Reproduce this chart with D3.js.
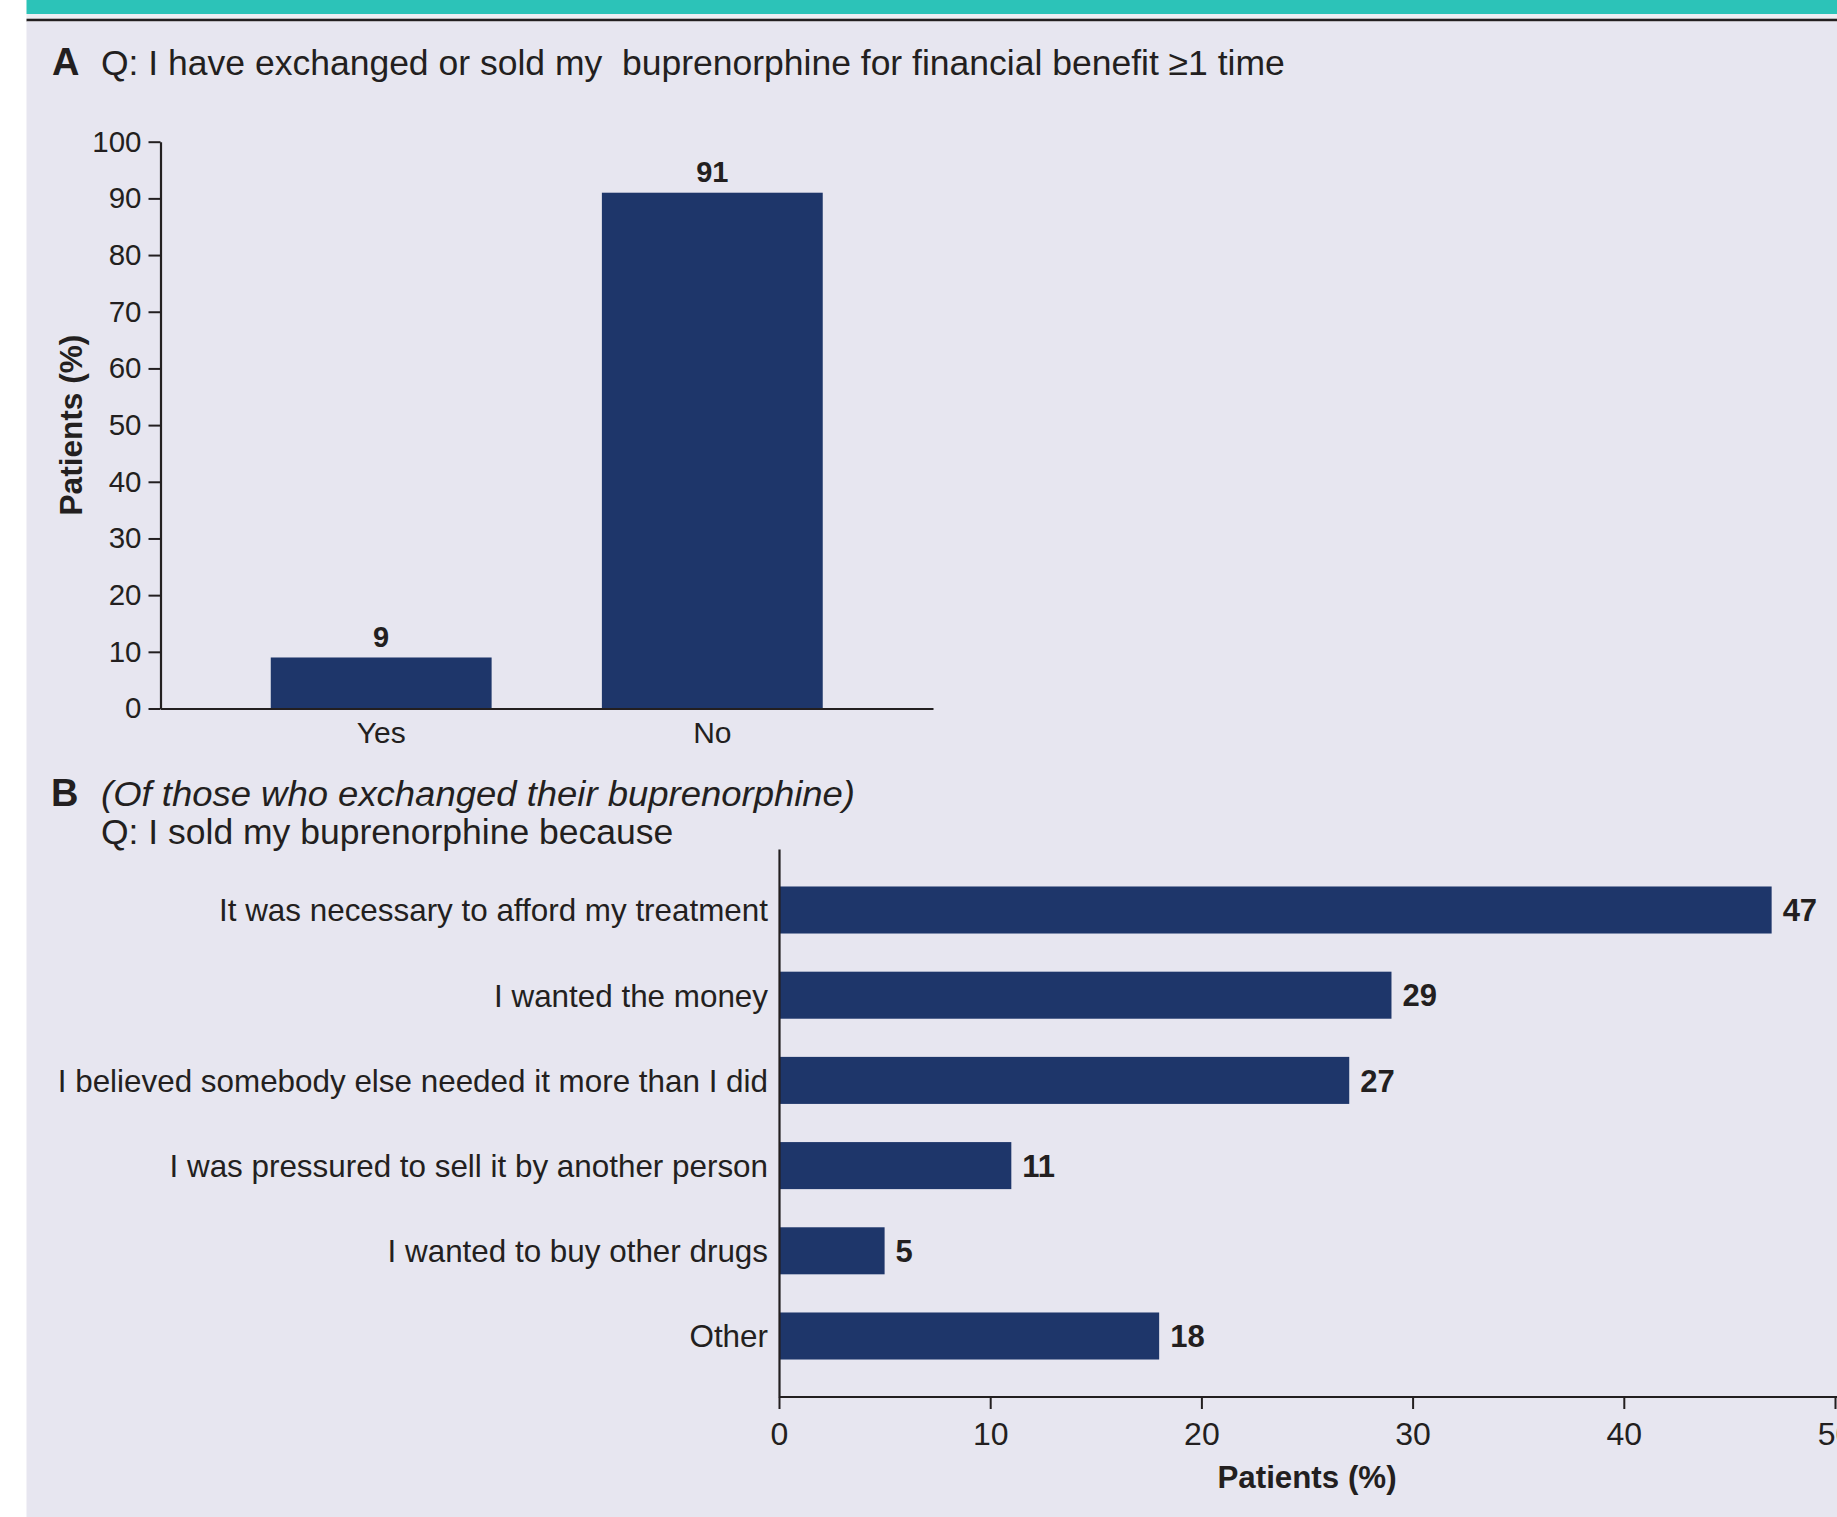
<!DOCTYPE html>
<html>
<head>
<meta charset="utf-8">
<script src="https://cdn.jsdelivr.net/npm/d3@7"></script>
<style>
  html, body { margin: 0; padding: 0; background: #ffffff; }
  svg { display: block; }
  text { font-family: "Liberation Sans", Arial, Helvetica, sans-serif; }
</style>
</head>
<body>
<svg id="chart" width="1837" height="1517"></svg>
<script>
// Panel A: share of patients who exchanged or sold buprenorphine
const panelALetter = "A";
const panelATitle = "Q: I have exchanged or sold my\u00a0 buprenorphine for financial benefit \u22651 time";
const answerCategories = ["Yes", "No"];
const answerValues = [9, 91];
const panelAYTicks = [0, 10, 20, 30, 40, 50, 60, 70, 80, 90, 100];

// Panel B: reasons given by those who exchanged it
const panelBLetter = "B";
const panelBSubtitle = "(Of those who exchanged their buprenorphine)";
const panelBTitle = "Q: I sold my buprenorphine because";
const reasonCategories = [
  "It was necessary to afford my treatment",
  "I wanted the money",
  "I believed somebody else needed it more than I did",
  "I was pressured to sell it by another person",
  "I wanted to buy other drugs",
  "Other"
];
const reasonValues = [47, 29, 27, 11, 5, 18];
const panelBXTicks = [0, 10, 20, 30, 40, 50];

const axisTitle = "Patients (%)";

const INK = "#231f20";
const BAR = "#1e366a";
const PANEL_BG = "#e7e6f0";
const TEAL = "#2cc3b8";

const svg = d3.select("#chart");

// Page frame: teal header band, rule, and panel background
svg.append("rect").attr("x", 0).attr("y", 0).attr("width", 1837).attr("height", 1517).attr("fill", "#ffffff");
svg.append("rect").attr("x", 26.5).attr("y", 0).attr("width", 1837 - 26.5).attr("height", 14).attr("fill", TEAL);
svg.append("rect").attr("x", 26.5).attr("y", 14).attr("width", 1837 - 26.5).attr("height", 4.7).attr("fill", "#eeeef3");
svg.append("rect").attr("x", 26.5).attr("y", 18.7).attr("width", 1837 - 26.5).attr("height", 2.8).attr("fill", INK);
svg.append("rect").attr("x", 26.5).attr("y", 21.5).attr("width", 1837 - 26.5).attr("height", 1517 - 21.5).attr("fill", PANEL_BG);

function styleAxis(g, fontSize) {
  g.attr("font-family", null).attr("font-size", null).attr("color", INK);
  g.selectAll("path.domain").attr("stroke", INK).attr("stroke-width", 2.2);
  g.selectAll(".tick line").attr("stroke", INK).attr("stroke-width", 2);
  g.selectAll(".tick text")
    .attr("fill", INK)
    .style("font-family", '"Liberation Sans", Arial, Helvetica, sans-serif')
    .style("font-size", fontSize + "px");
}

// ---------- Panel A ----------
svg.append("text").attr("x", 52).attr("y", 74.5)
  .attr("font-weight", "bold").attr("font-size", 38).attr("fill", INK).text(panelALetter);
svg.append("text").attr("x", 101).attr("y", 74.5)
  .attr("font-size", 35.5).attr("fill", INK).text(panelATitle);

const aLeft = 160.5, aRight = 933, aTop = 141.7, aBottom = 708.5;
const xA = d3.scaleBand().domain(answerCategories).range([aLeft, aRight]).paddingInner(0.333).paddingOuter(0.333);
const yA = d3.scaleLinear().domain([0, 100]).range([aBottom, aTop]);

svg.append("g").selectAll("rect").data(answerCategories).join("rect")
  .attr("x", d => xA(d))
  .attr("y", (d, i) => yA(answerValues[i]))
  .attr("width", xA.bandwidth())
  .attr("height", (d, i) => yA(0) - yA(answerValues[i]))
  .attr("fill", BAR);

svg.append("g").selectAll("text").data(answerCategories).join("text")
  .attr("x", d => xA(d) + xA.bandwidth() / 2)
  .attr("y", (d, i) => yA(answerValues[i]) - 10.5)
  .attr("text-anchor", "middle").attr("font-weight", "bold").attr("font-size", 29).attr("fill", INK)
  .text((d, i) => answerValues[i]);

const yAxisA = svg.append("g").attr("transform", `translate(${aLeft},0)`)
  .call(d3.axisLeft(yA).tickValues(panelAYTicks).tickSize(12).tickSizeOuter(0).tickPadding(7));
styleAxis(yAxisA, 29.5);

const xAxisA = svg.append("g").attr("transform", `translate(0,${aBottom})`)
  .call(d3.axisBottom(xA).tickSize(0).tickSizeOuter(0).tickPadding(13));
styleAxis(xAxisA, 30);
xAxisA.selectAll(".tick text").attr("dy", "0.71em");

svg.append("text")
  .attr("transform", `translate(82,${(aTop + aBottom) / 2}) rotate(-90)`)
  .attr("text-anchor", "middle").attr("font-weight", "bold").attr("font-size", 31.6).attr("fill", INK)
  .text(axisTitle);

// ---------- Panel B ----------
svg.append("text").attr("x", 51).attr("y", 806)
  .attr("font-weight", "bold").attr("font-size", 38).attr("fill", INK).text(panelBLetter);
svg.append("text").attr("x", 101).attr("y", 806)
  .attr("font-size", 35.5).attr("font-style", "italic").attr("fill", INK)
  .attr("textLength", 754).attr("lengthAdjust", "spacingAndGlyphs")
  .text(panelBSubtitle);
svg.append("text").attr("x", 101).attr("y", 844)
  .attr("font-size", 35.5).attr("fill", INK).text(panelBTitle);

const bLeft = 779, bRight = 1835, bTop = 849, bBottom = 1397;
const xB = d3.scaleLinear().domain([0, 50]).range([bLeft, bRight]);
const yB = d3.scaleBand().domain(reasonCategories).range([bTop, bBottom]).paddingInner(0.448).paddingOuter(0.44);

svg.append("g").selectAll("rect").data(reasonCategories).join("rect")
  .attr("x", xB(0))
  .attr("y", d => yB(d))
  .attr("width", (d, i) => xB(reasonValues[i]) - xB(0))
  .attr("height", yB.bandwidth())
  .attr("fill", BAR);

svg.append("g").selectAll("text").data(reasonCategories).join("text")
  .attr("x", (d, i) => xB(reasonValues[i]) + 11)
  .attr("y", d => yB(d) + yB.bandwidth() / 2)
  .attr("dy", "0.36em")
  .attr("font-weight", "bold").attr("font-size", 31).attr("fill", INK)
  .text((d, i) => reasonValues[i]);

const yAxisB = svg.append("g").attr("transform", `translate(${bLeft},0)`)
  .call(d3.axisLeft(yB).tickSize(0).tickSizeOuter(0).tickPadding(11));
styleAxis(yAxisB, 31.4);
yAxisB.selectAll(".tick text").attr("dy", "0.36em");

const xAxisB = svg.append("g").attr("transform", `translate(0,${bBottom})`)
  .call(d3.axisBottom(xB).tickValues(panelBXTicks).tickSize(12).tickSizeOuter(0).tickPadding(13));
styleAxis(xAxisB, 32);
xAxisB.select("path.domain").attr("d", `M${bLeft},0H1837`);

svg.append("text")
  .attr("x", (bLeft + bRight) / 2).attr("y", 1488)
  .attr("text-anchor", "middle").attr("font-weight", "bold").attr("font-size", 31.3).attr("fill", INK)
  .text(axisTitle);
</script>
</body>
</html>
